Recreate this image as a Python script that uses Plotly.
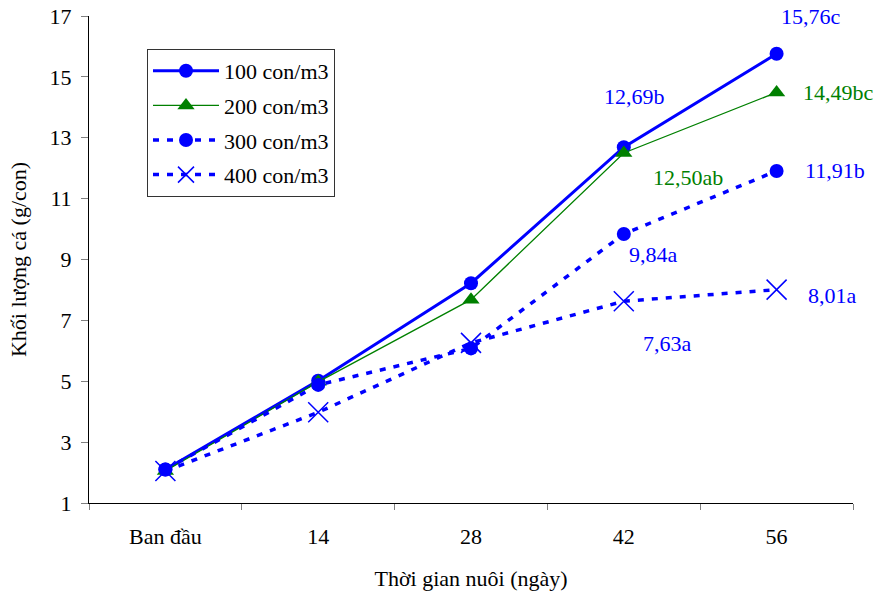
import plotly.graph_objects as go

categories = ["Ban đầu", "14", "28", "42", "56"]
s100 = [2.10, 5.02, 8.22, 12.69, 15.76]
s200 = [2.05, 4.98, 7.68, 12.50, 14.49]
s300 = [2.10, 4.88, 6.08, 9.84, 11.91]
s400 = [2.05, 3.98, 6.26, 7.63, 8.01]
names = ["100 con/m3", "200 con/m3", "300 con/m3", "400 con/m3"]

label_text = ["15,76c", "14,49bc", "11,91b", "8,01a", "12,69b", "12,50ab", "9,84a", "7,63a"]

BLUE = "#0000FF"
GREEN = "#008000"
FONT = "Liberation Serif, Times New Roman, serif"
FS = 22

W, H = 879, 598
L, R, T, B = 89, 26, 16, 95

fig = go.Figure()
fig.add_trace(go.Scatter(x=categories, y=s100, name=names[0], mode="lines+markers", legendgroup="a",
                         line=dict(color=BLUE, width=3),
                         marker=dict(symbol="circle", size=14, color=BLUE)))
fig.add_trace(go.Scatter(x=categories, y=s200, name=names[1], mode="lines+markers", legendgroup="b",
                         line=dict(color=GREEN, width=1.3),
                         marker=dict(symbol="triangle-up", size=15, color=GREEN)))
fig.add_trace(go.Scatter(x=categories, y=s300, name=names[2], mode="lines+markers", legendgroup="c",
                         line=dict(color=BLUE, width=3.5, dash="6px,8px"),
                         marker=dict(symbol="circle", size=14, color=BLUE)))
fig.add_trace(go.Scatter(x=categories, y=s400, name=names[3], mode="lines+markers", legendgroup="d",
                         line=dict(color=BLUE, width=3.5, dash="6px,8px"),
                         marker=dict(symbol="x-thin-open", size=20, color=BLUE,
                                     line=dict(color=BLUE, width=1.5))))

# annotations: (category index, value, text, color, xanchor, xshift, yshift)
ann = [
    (4, s100[4], label_text[0], BLUE, "center", 34, 37),
    (4, s200[4], label_text[1], GREEN, "left", 24, 0),
    (4, s300[4], label_text[2], BLUE, "left", 26, 0),
    (4, s400[4], label_text[3], BLUE, "left", 29, -6),
    (3, s100[3], label_text[4], BLUE, "center", 11, 51),
    (3, s200[3], label_text[5], GREEN, "center", 64, -25),
    (3, s300[3], label_text[6], BLUE, "center", 30, -21),
    (3, s400[3], label_text[7], BLUE, "center", 44, -42),
]
for ci, v, t, c, xa, xs, ys in ann:
    fig.add_annotation(x=ci, y=v, xref="x", yref="y", text=t, showarrow=False,
                       xanchor=xa, yanchor="middle", xshift=xs, yshift=ys,
                       font=dict(family=FONT, size=FS, color=c))

pw = W - L - R
ph = H - T - B
fig.update_layout(
    width=W, height=H,
    margin=dict(l=L, r=R, t=T, b=B, pad=0),
    paper_bgcolor="white", plot_bgcolor="white",
    font=dict(family=FONT, size=FS, color="black"),
    showlegend=True,
    legend=dict(x=(147 - L) / pw, y=(H - B - 49) / ph, xref="paper", yref="paper",
                xanchor="left", yanchor="top", traceorder="grouped",
                bordercolor="#333333", borderwidth=1, bgcolor="white",
                font=dict(family=FONT, size=FS, color="black"),
                itemwidth=66, tracegroupgap=3),
)

fig.update_xaxes(type="category", range=[-0.5, 4.5], showline=True, linecolor="black",
                 linewidth=1, ticks="outside", tickson="boundaries", ticklen=6,
                 tickcolor="#808080", showgrid=False, zeroline=False, automargin=False,
                 ticklabelstandoff=14,
                 tickfont=dict(family=FONT, size=FS, color="black"),
                 title=dict(text="Thời gian nuôi (ngày)", standoff=22,
                            font=dict(family=FONT, size=FS, color="black")))
fig.update_yaxes(range=[1, 17], dtick=2, tick0=1, showline=True, linecolor="black",
                 linewidth=1, ticks="outside", ticklen=7, tickcolor="#808080",
                 showgrid=False, zeroline=False, automargin=False,
                 ticklabelstandoff=5,
                 tickfont=dict(family=FONT, size=FS, color="black"),
                 title=dict(text="Khối lượng cá (g/con)", standoff=16,
                            font=dict(family=FONT, size=FS, color="black")))

fig.write_html("out.html", config={"displayModeBar": False},
               post_script="document.body.style.margin='0';")
